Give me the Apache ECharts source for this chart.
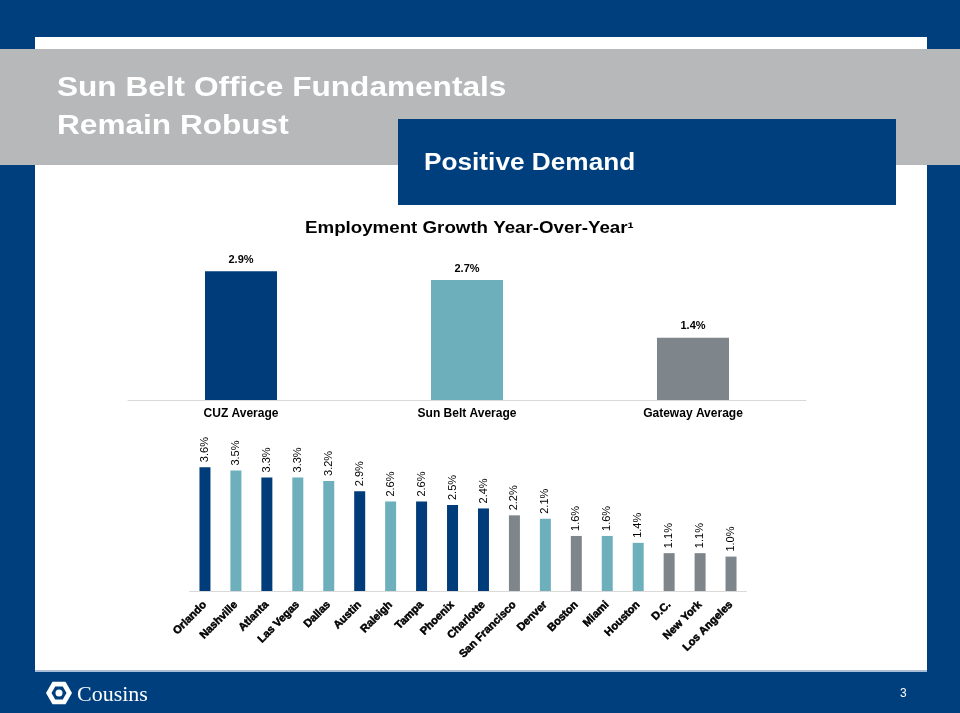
<!DOCTYPE html>
<html><head><meta charset="utf-8">
<script src="https://cdn.jsdelivr.net/npm/echarts@6/dist/echarts.min.js"></script>
<style>html,body{margin:0;padding:0;background:#003F7E;}#c{width:960px;height:713px;}</style>
</head><body><div id="c"></div>
<script>
// Top chart data
const avgCategories = ["CUZ Average", "Sun Belt Average", "Gateway Average"];
const avgValues = [2.9, 2.7, 1.4];
const avgGroups = ["CUZ", "Sun Belt", "Gateway"];

// Bottom chart data
const marketCategories = ["Orlando","Nashville","Atlanta","Las Vegas","Dallas","Austin","Raleigh","Tampa","Phoenix","Charlotte","San Francisco","Denver","Boston","Miami","Houston","D.C.","New York","Los Angeles"];
const marketValues = [3.6,3.5,3.3,3.3,3.2,2.9,2.6,2.6,2.5,2.4,2.2,2.1,1.6,1.6,1.4,1.1,1.1,1.0];
const marketGroups = ["CUZ","Sun Belt","CUZ","Sun Belt","Sun Belt","CUZ","Sun Belt","CUZ","CUZ","CUZ","Gateway","Sun Belt","Gateway","Sun Belt","Sun Belt","Gateway","Gateway","Gateway"];

const groupColor = {"CUZ":"#003C7A","Sun Belt":"#6DAFBA","Gateway":"#7E868C"};
const NAVY = "#003F7E";
const FONT = "Liberation Sans, Arial, sans-serif";

const chart = echarts.init(document.getElementById('c'), null, {renderer:'canvas'});

function hexPoints(cx, cy, r) {
  const pts = [];
  for (let i = 0; i < 6; i++) {
    const a = Math.PI / 180 * (60 * i);
    pts.push([cx + r * Math.cos(a), cy + r * Math.sin(a)]);
  }
  return pts;
}

chart.setOption({
  backgroundColor: NAVY,
  animation: false,
  graphic: [
    {type:'rect', z:-10, shape:{x:35,y:37,width:892,height:634}, style:{fill:'#ffffff'}},
    {type:'rect', z:-9, shape:{x:35,y:670,width:892,height:2}, style:{fill:'#A9BED6'}},
    {type:'rect', z:-9, shape:{x:0,y:49,width:960,height:116}, style:{fill:'#B6B8BA'}},
    {type:'rect', z:-8, shape:{x:398,y:119,width:498,height:86}, style:{fill:NAVY}},
    {type:'text', x:57, y:89, scaleX:1.17, style:{text:'Sun Belt Office Fundamentals', fill:'#ffffff', font:'bold 27px ' + FONT, verticalAlign:'middle'}},
    {type:'text', x:57, y:127, scaleX:1.17, style:{text:'Remain Robust', fill:'#ffffff', font:'bold 27px ' + FONT, verticalAlign:'middle'}},
    {type:'text', x:424, y:164, scaleX:1.14, style:{text:'Positive Demand', fill:'#ffffff', font:'bold 23px ' + FONT, verticalAlign:'middle'}},
    {type:'text', x:305, y:229, scaleX:1.17, style:{text:'Employment Growth Year-Over-Year\u00B9', fill:'#000000', font:'bold 16px ' + FONT, verticalAlign:'middle'}},
    // logo
    {type:'polygon', shape:{points:hexPoints(59, 693, 13)}, style:{fill:'#ffffff'}},
    {type:'polygon', shape:{points:hexPoints(59, 693, 7.5)}, style:{fill:NAVY}},
    {type:'circle', shape:{cx:59, cy:693, r:3.5}, style:{fill:'#ffffff'}},
    {type:'text', x:77, y:695, style:{text:'Cousins', fill:'#ffffff', font:'22px "Liberation Serif", "Times New Roman", serif', verticalAlign:'middle'}},
    {type:'text', x:900, y:694, style:{text:'3', fill:'#ffffff', font:'12px ' + FONT, verticalAlign:'middle'}}
  ],
  grid: [
    {left:128, width:678, top:400 - 3.2*44.4, height:3.2*44.4},
    {left:189.5, width:557, top:591 - 4*34.4, height:4*34.4}
  ],
  xAxis: [
    {gridIndex:0, type:'category', data:avgCategories,
     axisLine:{lineStyle:{color:'#D9D9D9', width:1}}, axisTick:{show:false},
     axisLabel:{color:'#000', fontFamily:FONT, fontSize:12, fontWeight:'bold', margin:8}},
    {gridIndex:1, type:'category', data:marketCategories,
     axisLine:{lineStyle:{color:'#D9D9D9', width:1}}, axisTick:{show:false},
     axisLabel:{color:'#000', fontFamily:FONT, fontSize:11, fontWeight:'bold', rotate:45, margin:12, interval:0,
                textBorderColor:'#000', textBorderWidth:0.5}}
  ],
  yAxis: [
    {gridIndex:0, type:'value', min:0, max:3.2, show:false, splitLine:{show:false}},
    {gridIndex:1, type:'value', min:0, max:4, show:false, splitLine:{show:false}}
  ],
  series: [
    {type:'bar', xAxisIndex:0, yAxisIndex:0, barWidth:72,
     data: avgValues.map((v,i)=>({value:v, itemStyle:{color:groupColor[avgGroups[i]]}})),
     label:{show:true, position:'top', distance:6, formatter:p=>p.value.toFixed(1)+'%', color:'#000', fontFamily:FONT, fontSize:11, fontWeight:'bold'}},
    {type:'bar', xAxisIndex:1, yAxisIndex:1, barWidth:11,
     data: marketValues.map((v,i)=>({value:v, itemStyle:{color:groupColor[marketGroups[i]]}})),
     label:{show:true, position:'top', rotate:90, align:'left', verticalAlign:'middle', distance:5,
            formatter:p=>p.value.toFixed(1)+'%', color:'#000', fontFamily:FONT, fontSize:11}}
  ]
});
</script></body></html>
